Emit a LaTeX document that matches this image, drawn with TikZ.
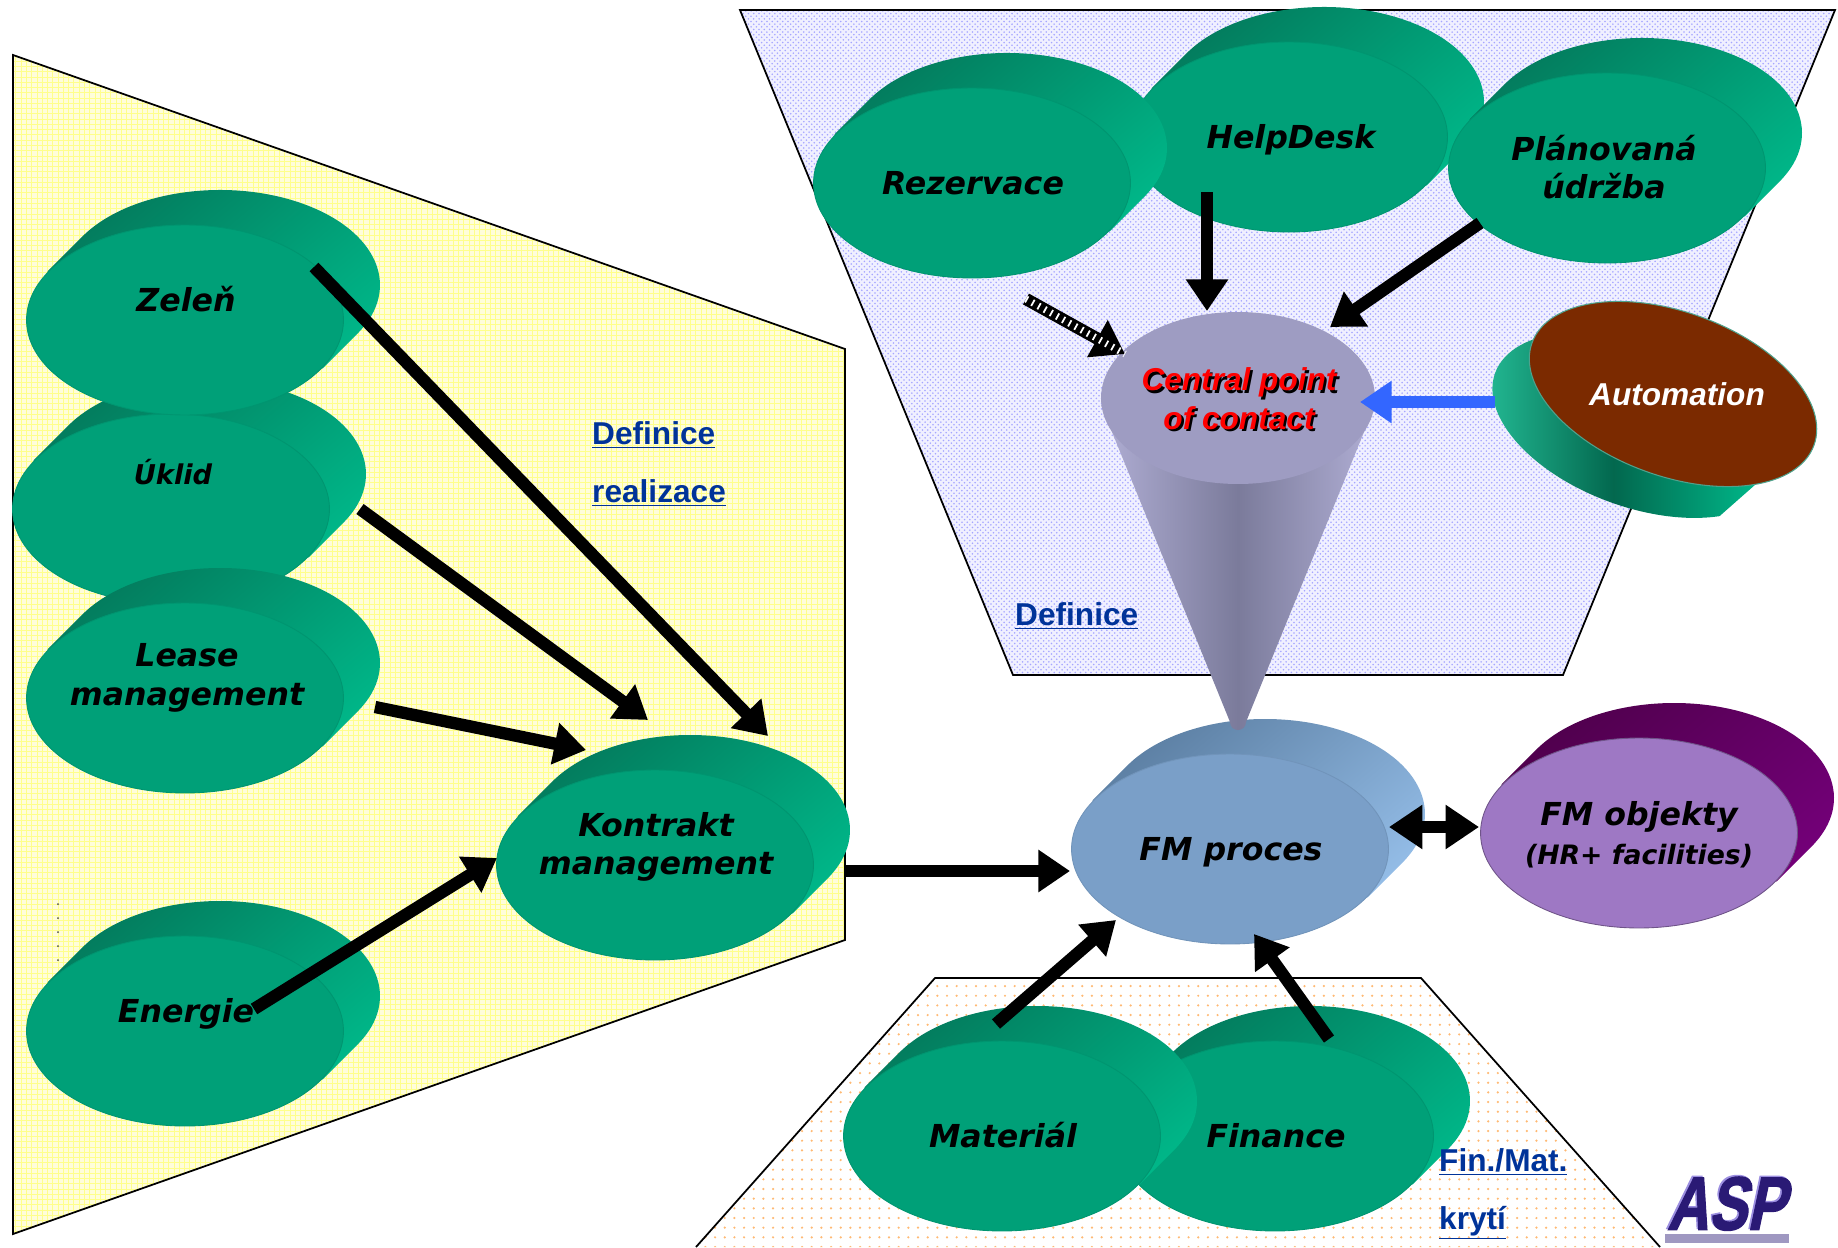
\documentclass[tikz,border=0pt]{standalone}
\usepackage{xcolor}
\usepackage{fontspec}
\setmainfont{Liberation Sans}
\newfontfamily\labelfont{DejaVu Sans}
\newfontfamily\logofont[BoldFeatures={FakeBold=2,FakeSlant=0.28}]{Liberation Sans}
\usepackage{tikz}
\usetikzlibrary{arrows.meta,patterns,patterns.meta,shapes.geometric}

\definecolor{greenfront}{HTML}{00A078}
\definecolor{greendark}{HTML}{037A5C}
\definecolor{greenlight}{HTML}{00B688}
\definecolor{bluefront}{HTML}{7A9FC8}
\definecolor{bluedark}{HTML}{5B7EA2}
\definecolor{bluelight}{HTML}{93BCE6}
\definecolor{purplefront}{HTML}{9E78C4}
\definecolor{purpledark}{HTML}{4F004C}
\definecolor{purplelight}{HTML}{730078}
\definecolor{conetop}{HTML}{9E9CC2}
\definecolor{conedark}{HTML}{7B7B9B}
\definecolor{conelight}{HTML}{B0AED4}
\definecolor{linkblue}{HTML}{003399}
\definecolor{autoblue}{HTML}{3366FF}
\definecolor{logoblue}{HTML}{2A1A75}
\definecolor{logoshade}{HTML}{9C8FE0}
\definecolor{autobrown}{HTML}{7B2A00}

\tikzset{
  diskfront/.style={ellipse,minimum width=6.34cm,minimum height=3.8cm,inner sep=0pt},
  disklabel/.style={font=\labelfont\fontsize{18}{22}\selectfont\bfseries\itshape,align=center,text=black},
  linktext/.style={font=\fontsize{18}{33}\selectfont\bfseries,text=linkblue,align=left,anchor=west},
  bigarrow/.style={line width=7pt,-{Triangle[length=18pt,width=23pt]}},
}

% swept back of a disk, the front ellipse then lies over it
\newcommand{\fmdisk}[7][93]{
  \path[top color=#5,bottom color=#6,shading angle=40,shift={(#3,#4)}]
    (-102.6,83.5) arc[start angle=149.3,end angle=-30.7,x radius=160,y radius=95]
    -- (137.6,-48.5) -- (-137.6,48.5) -- cycle;
  \node[diskfront,fill=#7,draw=#7!#1!black,line width=0.5pt] (#2) at (#3,#4) {};
}
\newcommand{\dropshadow}[1]{\makebox[0pt][l]{\kern1.3pt\raisebox{-1.3pt}{\color{black}#1}}#1}

\begin{document}
\begin{tikzpicture}[x=0.02cm,y=0.02cm]
  \useasboundingbox (0,0) rectangle (1838,-1247);

  % fields behind the disks
  \fill[yellow!14] (13,-55) -- (845,-349) -- (845,-940) -- (13,-1234) -- cycle;
  \fill[pattern=grid,pattern color=yellow!45] (13,-55) -- (845,-349) -- (845,-940) -- (13,-1234) -- cycle;
  \draw[line width=1pt] (13,-55) -- (845,-349) -- (845,-940) -- (13,-1234) -- cycle;
  \fill[blue!6] (740,-10) -- (1835,-10) -- (1563,-675) -- (1013,-675) -- cycle;
  \fill[pattern=crosshatch dots,pattern color=blue!35] (740,-10) -- (1835,-10) -- (1563,-675) -- (1013,-675) -- cycle;
  \draw[line width=1pt] (740,-10) -- (1835,-10) -- (1563,-675) -- (1013,-675) -- cycle;
  \fill[pattern={Dots[distance=5.5pt,radius=0.7pt]},pattern color=orange!55] (935,-978) -- (1421,-978) -- (1660,-1247) -- (696,-1247) -- cycle;
  \draw[line width=1pt] (696,-1247) -- (935,-978) -- (1421,-978) -- (1660,-1247);

  \foreach \i in {0,...,4}
    \fill[black!70] (58,-904-\i*14) circle (1);

  \fmdisk{uklid}{171}{-509}{greendark}{greenlight}{greenfront}
  \fmdisk{zelen}{185}{-320}{greendark}{greenlight}{greenfront}
  \fmdisk{lease}{185}{-698}{greendark}{greenlight}{greenfront}
  \fmdisk{energie}{185}{-1031}{greendark}{greenlight}{greenfront}
  \fmdisk{kontrakt}{655}{-865}{greendark}{greenlight}{greenfront}
  \fmdisk{helpdesk}{1289}{-137}{greendark}{greenlight}{greenfront}
  \fmdisk{rezervace}{972}{-183}{greendark}{greenlight}{greenfront}
  \fmdisk{planovana}{1607}{-168}{greendark}{greenlight}{greenfront}
  \fmdisk{finance}{1275}{-1136}{greendark}{greenlight}{greenfront}
  \fmdisk{material}{1002}{-1136}{greendark}{greenlight}{greenfront}
  \fmdisk{fmproces}{1230}{-849}{bluedark}{bluelight}{bluefront}
  \fmdisk[70]{fmobjekty}{1639}{-833}{purpledark}{purplelight}{purplefront}

  % funnel
  \path[left color=conelight,right color=conelight,middle color=conedark]
    (1101,-405) -- (1230,-722) arc[start angle=180,end angle=360,radius=8] -- (1375,-405) -- cycle;
  \node[ellipse,minimum width=5.48cm,minimum height=3.44cm,inner sep=0pt,fill=conetop] (cone) at (1238,-398) {};

  % tilted disk
  \begin{scope}[shift={(1673,-394)},rotate=-20]
    \path[left color=greenlight!85!white,right color=greenlight,middle color=greendark!85!black]
      (-130.2,16.7) arc[start angle=135.2,end angle=315.2,x radius=152,y radius=82]
      -- (107.9,-57.8) -- (-107.9,57.8) -- cycle;
  \end{scope}
  \node[ellipse,minimum width=6cm,minimum height=3.28cm,inner sep=0pt,rotate=-20,fill=autobrown,draw=greendark!70,line width=0.6pt] (automation) at (1673,-394) {};

  \node[disklabel] (zelentext) at (186,-299) {Zeleň};
  \node[disklabel,font=\labelfont\fontsize{15.5}{18}\selectfont\bfseries\itshape] (uklidtext) at (173,-472) {Úklid};
  \node[disklabel] (leasetext) at (187,-678) {Lease\\management};
  \node[disklabel] (energietext) at (186,-1014) {Energie};
  \node[disklabel] (kontrakttext) at (656,-847) {Kontrakt\\management};
  \node[disklabel] (rezervacetext) at (973,-183) {Rezervace};
  \node[disklabel] (helpdesktext) at (1291,-140) {HelpDesk};
  \node[disklabel] (planovanatext) at (1604,-167) {Plánovaná\\údržba};
  \node[disklabel] (fmprocestext) at (1231,-852) {FM proces};
  \node[disklabel] (fmobjektytext) at (1639,-835) {FM objekty\\{\fontsize{15.2}{22}\selectfont(HR+ facilities)}};
  \node[disklabel] (materialtext) at (1003,-1135) {Materiál};
  \node[disklabel] (financetext) at (1276,-1136) {Finance};
  \node[font=\fontsize{18}{22}\selectfont\bfseries\itshape,text=red,align=center] (conetext) at (1239,-400) {\dropshadow{Central point}\\\dropshadow{of contact}};
  \node[font=\fontsize{18}{22}\selectfont\bfseries\itshape,text=white] (automationtext) at (1677,-394) {Automation};

  \node[linktext] (definicerealizace) at (586,-464) {\underline{Definice}\\\underline{realizace}};
  \node[linktext] (definice) at (1009,-616) {\underline{Definice}};
  \node[linktext] (finmat) at (1433,-1194) {\underline{Fin./Mat.}\\\underline{krytí}};

  \node[font=\logofont\bfseries\fontsize{43}{43}\selectfont,text=logoblue,inner sep=0pt] (asp) at (1726,-1203)
    {\scalebox{.76}[1]{\makebox[0pt][l]{\kern-1.2pt\raisebox{0.8pt}{\color{logoshade}ASP}}ASP}};
  \fill[logoblue!45] (1665,-1234) rectangle (1789,-1243);

  % ends that stop short of a shape or start inside one
  \coordinate (kontrakttop) at (768,-736);
  \coordinate (kontraktup) at (648,-720);
  \coordinate (kontraktleft) at (586,-750);
  \coordinate (kontraktwest) at (497,-858);
  \coordinate (zelenstart) at (314,-267);
  \coordinate (uklidstart) at (360,-509);
  \coordinate (leasestart) at (375,-707);
  \coordinate (energiestart) at (254,-1009);
  \coordinate (fmin) at (1070,-871);
  \coordinate (kontraktout) at (845,-871);
  \coordinate (materialstart) at (996,-1024);
  \coordinate (fmleft) at (1116,-920);
  \coordinate (financestart) at (1329,-1039);
  \coordinate (fmlow) at (1254,-934);
  \coordinate (helpstart) at (1207,-192);
  \coordinate (conehelp) at (1207,-311);
  \coordinate (planstart) at (1480,-223);
  \coordinate (coneplan) at (1330,-327);
  \coordinate (autostart) at (1495,-402);
  \coordinate (coneauto) at (1360,-402);
  \coordinate (dithstart) at (1026,-299);
  \coordinate (conedith) at (1125,-354);
  \coordinate (fmright) at (1389,-827);
  \coordinate (objektleft) at (1479,-827);

  \draw[bigarrow] (zelenstart) -- (kontrakttop);
  \draw[bigarrow] (uklidstart) -- (kontraktup);
  \draw[bigarrow] (leasestart) -- (kontraktleft);
  \draw[bigarrow] (energiestart) -- (kontraktwest);
  \draw[bigarrow] (kontraktout) -- (fmin);
  \draw[bigarrow] (materialstart) -- (fmleft);
  \draw[bigarrow] (financestart) -- (fmlow);
  \draw[bigarrow] (helpstart) -- (conehelp);
  \draw[bigarrow] (planstart) -- (coneplan);
  \draw[bigarrow,draw=autoblue,fill=autoblue] (autostart) -- (coneauto);
  \draw[bigarrow,postaction={draw=white,-,line width=4pt,dash pattern=on 1pt off 3pt}] (dithstart) -- (conedith);
  \draw[line width=6.5pt,{Triangle[length=19pt,width=24pt]}-{Triangle[length=19pt,width=24pt]}] (fmright) -- (objektleft);
\end{tikzpicture}
\end{document}
